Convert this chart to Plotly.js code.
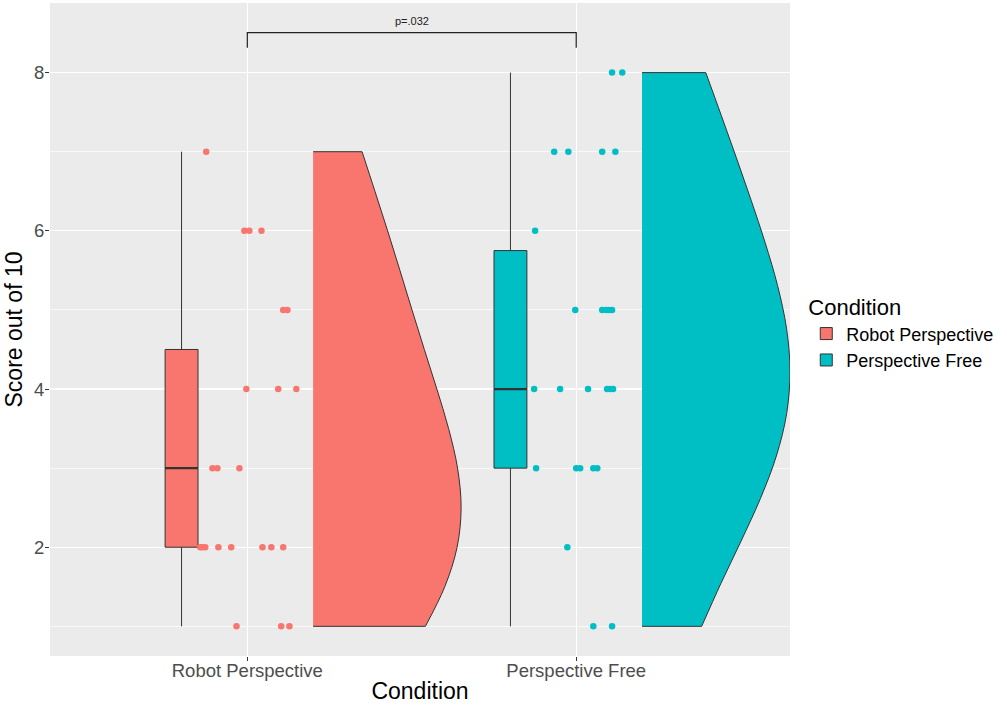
<!DOCTYPE html>
<html>
<head>
<meta charset="utf-8">
<script src="https://cdn.plot.ly/plotly-3.0.1.min.js"></script>
<style>
  html, body { margin: 0; padding: 0; background: #ffffff; }
  #chart { width: 1007px; height: 708px; }
</style>
</head>
<body>
<div id="chart"></div>
<script>
// Raincloud plot: half violin + boxplot + jittered raw scores per condition.

const conditions = ['Robot Perspective', 'Perspective Free'];

// Individual scores (out of 10)
const robotScores = [1, 1, 1, 2, 2, 2, 2, 2, 2, 2, 2, 3, 3, 3, 4, 4, 4, 5, 5, 6, 6, 6, 7];
const freeScores  = [1, 1, 2, 3, 3, 3, 3, 3, 4, 4, 4, 4, 4, 4, 5, 5, 5, 5, 5, 6, 7, 7, 7, 7, 8, 8];

// Horizontal jitter of each raw point (category units)
const robotJitter = [-0.033, 0.103, 0.128, -0.143, -0.137, -0.128, -0.088, -0.049, 0.046, 0.073, 0.109,
                     -0.106, -0.091, -0.024, -0.003, 0.094, 0.149, 0.109, 0.122, -0.009, 0.006, 0.043, -0.125];
const freeJitter  = [0.052, 0.109, -0.027, -0.122, 0.000, 0.012, 0.052, 0.064, -0.128, -0.049, 0.036, 0.094,
                     0.103, 0.112, -0.003, 0.079, 0.091, 0.100, 0.109, -0.125, -0.067, -0.024, 0.079, 0.119,
                     0.109, 0.140];

// Significance bracket between the two conditions
const comparison = [1, 2];
const pValueLabel = 'p=.032';

const groups = [
  { name: conditions[0], scores: robotScores, jitter: robotJitter, color: '#F8766D' },
  { name: conditions[1], scores: freeScores,  jitter: freeJitter,  color: '#00BFC4' }
];

// R type-7 quantile
function quantile(values, p) {
  const s = values.slice().sort((a, b) => a - b);
  const h = (s.length - 1) * p;
  const lo = Math.floor(h), hi = Math.ceil(h);
  return s[lo] + (h - lo) * (s[hi] - s[lo]);
}
function sd(values) {
  const m = values.reduce((a, b) => a + b, 0) / values.length;
  const v = values.reduce((a, b) => a + (b - m) * (b - m), 0) / (values.length - 1);
  return Math.sqrt(v);
}
// Silverman's rule of thumb as in R's bw.nrd0
function bwNrd0(values) {
  const iqr = quantile(values, 0.75) - quantile(values, 0.25);
  const lo = Math.min(sd(values), iqr / 1.34);
  return 0.9 * lo * Math.pow(values.length, -0.2);
}
// smoothing multiplier for the density outline
const bwAdjust = 1.8;

const outline = '#333333';
const traces = [];

groups.forEach((g, i) => {
  const pos = i + 1;
  const q1 = quantile(g.scores, 0.25);
  const med = quantile(g.scores, 0.5);
  const q3 = quantile(g.scores, 0.75);
  const iqr = q3 - q1;
  const inRange = g.scores.filter(v => v >= q1 - 1.5 * iqr && v <= q3 + 1.5 * iqr);

  // Half violin to the right of the raw points
  traces.push({
    type: 'violin',
    x0: pos + 0.2,
    y: g.scores,
    side: 'positive',
    width: 0.9,
    spanmode: 'hard',
    scalemode: 'width',
    bandwidth: bwAdjust * bwNrd0(g.scores),
    points: false,
    box: { visible: false },
    meanline: { visible: false },
    fillcolor: g.color,
    line: { color: outline, width: 1 },
    name: g.name,
    showlegend: false,
    hoverinfo: 'skip'
  });

  // Boxplot to the left
  traces.push({
    type: 'box',
    x: [pos - 0.2],
    q1: [q1],
    median: [med],
    q3: [q3],
    lowerfence: [Math.min(...inRange)],
    upperfence: [Math.max(...inRange)],
    width: 0.1,
    whiskerwidth: 0,
    boxpoints: false,
    fillcolor: g.color,
    line: { color: outline, width: 1 },
    name: g.name,
    legendgroup: g.name,
    showlegend: true
  });

  // Heavier median stroke
  traces.push({
    type: 'scatter',
    mode: 'lines',
    x: [pos - 0.25, pos - 0.15],
    y: [med, med],
    line: { color: outline, width: 2.2 },
    showlegend: false,
    hoverinfo: 'skip'
  });

  // Jittered raw scores
  traces.push({
    type: 'scatter',
    mode: 'markers',
    x: g.scores.map((v, k) => pos + g.jitter[k]),
    y: g.scores,
    marker: { color: g.color, size: 6.5 },
    showlegend: false,
    name: g.name
  });
});

const allScores = robotScores.concat(freeScores);
const bracketTop = Math.max(...allScores) + 0.505;
const bracketTick = 0.19;

const font = 'Liberation Sans, Arial, Helvetica, sans-serif';

const layout = {
  width: 1007,
  height: 708,
  margin: { l: 50, r: 217, t: 3, b: 52 },
  paper_bgcolor: '#ffffff',
  plot_bgcolor: '#EBEBEB',
  boxmode: 'overlay',
  violinmode: 'overlay',
  font: { family: font, color: '#000000' },
  xaxis: {
    range: [0.4, 2.65],
    tickvals: [1, 2],
    ticktext: conditions,
    showgrid: true,
    gridcolor: '#ffffff',
    gridwidth: 1.3,
    zeroline: false,
    showline: false,
    ticks: 'outside',
    ticklen: 4,
    tickcolor: outline,
    ticklabelstandoff: -6,
    automargin: true,
    tickfont: { size: 18.5, color: '#4D4D4D', family: font },
    title: { text: 'Condition', font: { size: 23, color: '#000000', family: font }, standoff: 2 }
  },
  yaxis: {
    range: [0.625, 8.88],
    tick0: 0,
    dtick: 2,
    showgrid: true,
    gridcolor: '#ffffff',
    gridwidth: 1.3,
    minor: { dtick: 1, tick0: 0, showgrid: true, gridcolor: '#ffffff', gridwidth: 0.7, ticks: '' },
    zeroline: false,
    showline: false,
    ticks: 'outside',
    ticklen: 4,
    tickcolor: outline,
    ticklabelstandoff: -3,
    automargin: true,
    tickfont: { size: 18.5, color: '#4D4D4D', family: font },
    title: { text: 'Score out of 10', font: { size: 23, color: '#000000', family: font }, standoff: 4 }
  },
  legend: {
    x: 1.022,
    xanchor: 'left',
    y: 0.495,
    yanchor: 'middle',
    bgcolor: 'rgba(0,0,0,0)',
    font: { size: 18, color: '#000000', family: font },
    title: { text: 'Condition', font: { size: 22, color: '#000000', family: font } },
    tracegroupgap: 0
  },
  shapes: [{
    type: 'path',
    xref: 'x', yref: 'y',
    path: 'M ' + comparison[0] + ',' + (bracketTop - bracketTick) +
          ' L ' + comparison[0] + ',' + bracketTop +
          ' L ' + comparison[1] + ',' + bracketTop +
          ' L ' + comparison[1] + ',' + (bracketTop - bracketTick),
    line: { color: '#222222', width: 1.2 }
  }],
  annotations: [{
    x: (comparison[0] + comparison[1]) / 2,
    y: bracketTop,
    xref: 'x', yref: 'y',
    text: pValueLabel,
    showarrow: false,
    yanchor: 'bottom',
    yshift: 4,
    font: { size: 11, color: '#222222', family: font }
  }]
};

Plotly.newPlot('chart', traces, layout, { displayModeBar: false, staticPlot: true });
</script>
</body>
</html>
